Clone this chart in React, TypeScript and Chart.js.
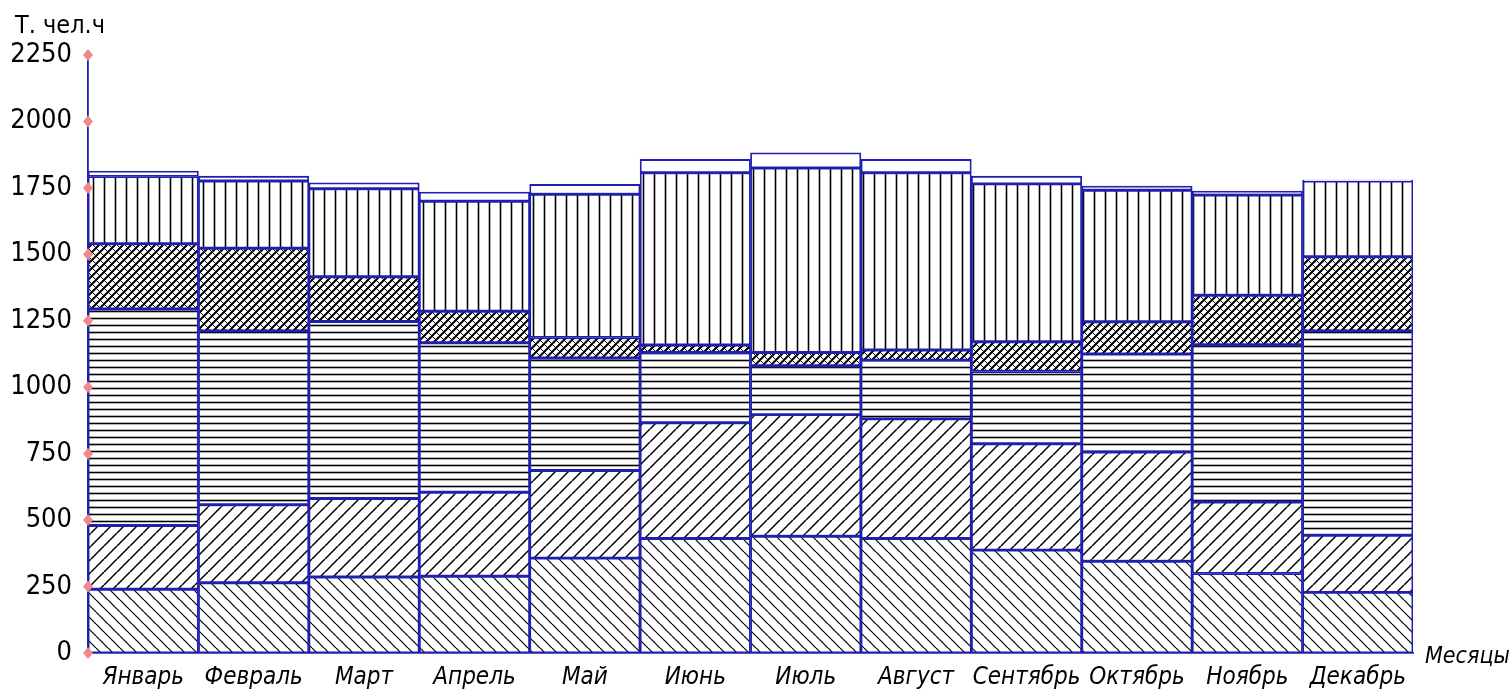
import React, { useEffect, useRef } from 'react';
import { Chart, registerables } from 'chart.js';

Chart.register(...registerables);

// ---- data (thousand man-hours per month, stacked segments) ----
const months = ['Январь', 'Февраль', 'Март', 'Апрель', 'Май', 'Июнь', 'Июль', 'Август', 'Сентябрь', 'Октябрь', 'Ноябрь', 'Декабрь'];
const seriesBack = [240, 264, 286, 289, 357, 431, 439, 431, 387, 345, 299, 228];
const seriesForward = [240, 294, 295, 316, 330, 435, 458, 450, 400, 411, 269, 215];
const seriesHorizontal = [814, 654, 666, 562, 423, 265, 184, 221, 272, 369, 592, 769];
const seriesCross = [246, 311, 169, 119, 77, 28, 50, 38, 112, 121, 186, 279];
const seriesVertical = [253, 253, 331, 414, 539, 648, 694, 667, 594, 495, 377, 285];
const seriesBlank = [20, 18, 22, 34, 37, 50, 57, 50, 29, 16, 15, 3];
const yMax = 2250;
const yStep = 250;
const yTitle = 'Т. чел.ч';
const xTitle = 'Месяцы';

const BLUE = '#2020b0';
const MARK = '#f08a8a';
const NARROW = "'Liberation Sans Narrow', 'DejaVu Sans Condensed', 'Roboto Condensed', 'Liberation Sans', sans-serif";

function makePattern(ctx: CanvasRenderingContext2D, kind: string): CanvasPattern | string {
  if (kind === 'blank') return '#ffffff';
  const size = kind === 'vertical' ? 11 : kind === 'horizontal' ? 7 : kind === 'cross' ? 8 : kind === 'forward' ? 13 : 12;
  const c = document.createElement('canvas');
  c.width = size;
  c.height = size;
  const g = c.getContext('2d')!;
  g.fillStyle = '#ffffff';
  g.fillRect(0, 0, size, size);
  g.strokeStyle = '#000000';
  const line = (x1: number, y1: number, x2: number, y2: number, w: number) => {
    g.lineWidth = w;
    g.beginPath();
    g.moveTo(x1, y1);
    g.lineTo(x2, y2);
    g.stroke();
  };
  if (kind === 'vertical') {
    line(size / 2, 0, size / 2, size, 1.6);
  } else if (kind === 'horizontal') {
    line(0, size / 2, size, size / 2, 1.6);
  } else {
    for (const o of [-size, 0, size]) {
      if (kind === 'forward') line(o, size, o + size, 0, 1.5);
      if (kind === 'back') line(o, 0, o + size, size, 1.2);
      if (kind === 'cross') {
        line(o, size, o + size, 0, 2.0);
        line(o, 0, o + size, size, 1.0);
      }
    }
  }
  return ctx.createPattern(c, 'repeat')!;
}

const decor = {
  id: 'decor',
  afterDraw(chart: any) {
    const ctx: CanvasRenderingContext2D = chart.ctx;
    const y = chart.scales.y;
    const x0 = chart.chartArea.left;
    ctx.save();
    // diamond markers on the y axis
    ctx.fillStyle = MARK;
    for (const t of y.ticks) {
      const py = y.getPixelForValue(t.value);
      ctx.beginPath();
      ctx.moveTo(x0, py - 6);
      ctx.lineTo(x0 + 5, py);
      ctx.lineTo(x0, py + 6);
      ctx.lineTo(x0 - 5, py);
      ctx.closePath();
      ctx.fill();
    }
    // axis titles
    ctx.fillStyle = '#000';
    ctx.textBaseline = 'alphabetic';
    ctx.textAlign = 'left';
    ctx.font = `25px ${NARROW}`;
    ctx.fillText(yTitle, 15, 33);
    ctx.font = `italic 23px ${NARROW}`;
    ctx.fillText(xTitle, chart.chartArea.right + 12, 663);
    ctx.restore();
  },
};

export default function App() {
  const ref = useRef<HTMLCanvasElement | null>(null);
  useEffect(() => {
    const canvas = ref.current!;
    const ctx = canvas.getContext('2d')!;
    const mk = (label: string, data: number[], kind: string) => ({
      label,
      data,
      backgroundColor: makePattern(ctx, kind),
      borderColor: BLUE,
      borderWidth: 1.8,
      borderSkipped: false,
      categoryPercentage: 1,
      barPercentage: 1,
    });
    const chart = new Chart(canvas, {
      type: 'bar',
      data: {
        labels: months,
        datasets: [
          mk('1', seriesBack, 'back'),
          mk('2', seriesForward, 'forward'),
          mk('3', seriesHorizontal, 'horizontal'),
          mk('4', seriesCross, 'cross'),
          mk('5', seriesVertical, 'vertical'),
          mk('6', seriesBlank, 'blank'),
        ] as any,
      },
      options: {
        animation: false,
        responsive: false,
        devicePixelRatio: 1,
        events: [],
        layout: { padding: { top: 55, right: 99, left: 0, bottom: 0 } },
        plugins: { legend: { display: false }, tooltip: { enabled: false }, title: { display: false } },
        scales: {
          x: {
            stacked: true,
            grid: { display: false, drawTicks: false },
            border: { color: BLUE, width: 1.8 },
            ticks: {
              color: '#000',
              font: { family: NARROW, size: 24, style: 'italic' },
              padding: 10,
              maxRotation: 0,
              autoSkip: false,
            },
            afterFit: (s: any) => {
              s.height = 43;
            },
          },
          y: {
            stacked: true,
            min: 0,
            max: yMax,
            grid: { display: false, drawTicks: false },
            border: { color: BLUE, width: 1.8 },
            ticks: {
              stepSize: yStep,
              color: '#000',
              font: { family: NARROW, size: 27 },
              padding: 16,
              callback: (v: any) => String(v),
            },
            afterFit: (s: any) => {
              s.width = 88;
            },
          },
        },
      } as any,
      plugins: [decor],
    });
    return () => chart.destroy();
  }, []);
  return (
    <div style={{ position: 'fixed', left: 0, top: 0, width: 1512, height: 696, background: '#fff' }}>
      <canvas ref={ref} width={1512} height={696} />
    </div>
  );
}
